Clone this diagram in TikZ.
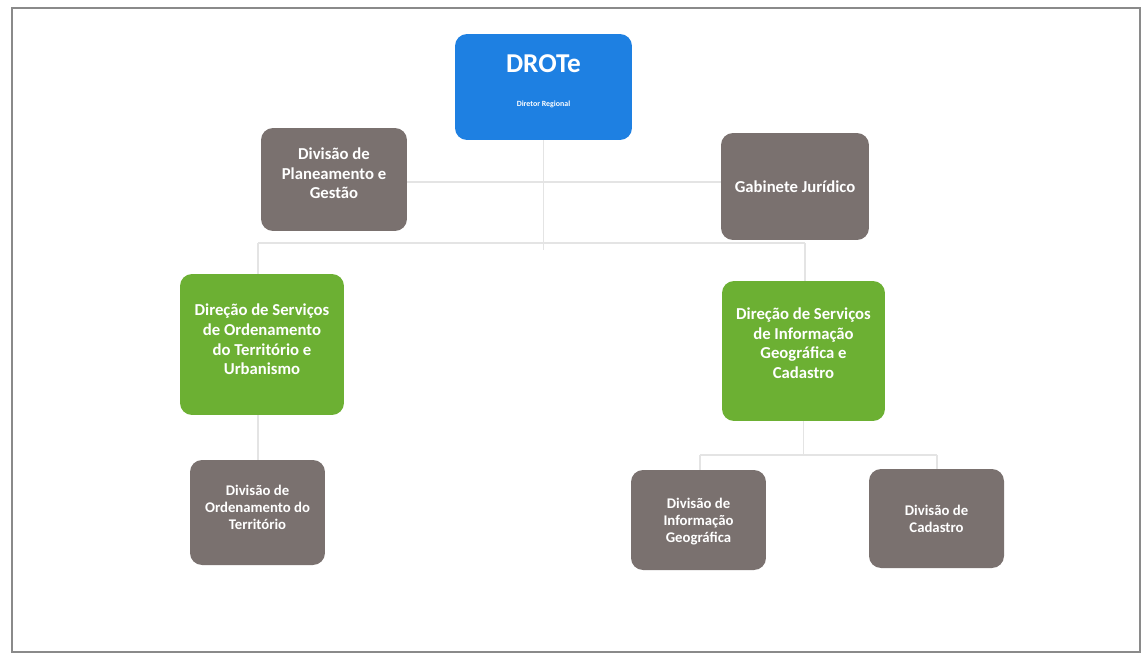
\documentclass[tikz,border=0pt]{standalone}
\usepackage{fontspec}
\setmainfont{Carlito}
\definecolor{boxgray}{HTML}{7A716F}
\definecolor{boxblue}{HTML}{1E80E2}
\definecolor{boxgreen}{HTML}{6CB033}
\definecolor{linegray}{HTML}{E4E4E4}
\definecolor{framegray}{HTML}{8A8A8A}
\begin{document}
\begin{tikzpicture}[x=0.02cm,y=-0.02cm,
  box/.style={rounded corners=0.24cm, text=white, font=\bfseries, align=center, inner sep=0pt},
  graybox/.style={box, fill=boxgray},
  greenbox/.style={box, fill=boxgreen},
  bluebox/.style={box, fill=boxblue},
  bigtxt/.style={font=\bfseries\fontsize{9.5}{11.2}\selectfont},
  smalltxt/.style={font=\bfseries\fontsize{8.4}{9.7}\selectfont},
  conn/.style={draw=linegray, line width=0.6pt}]
\path[use as bounding box] (0,0) rectangle (1142,656);
\draw[framegray, line width=1pt] (12,8) rectangle (1140,652);

% nodes
\node[bluebox, minimum width=3.54cm, minimum height=2.12cm] (drote) at (543.5,87) {};
\node[text=white, font=\bfseries\fontsize{15.5}{18}\selectfont] (drotet) at (543.5,64) {DROTe};
\node[text=white, font=\bfseries\fontsize{4.5}{5}\selectfont] (droted) at (543.5,104) {Diretor Regional};

\node[graybox, bigtxt, minimum width=2.92cm, minimum height=2.06cm, text depth=0.25cm] (plan) at (334,179.5) {Divisão de\\Planeamento e\\Gestão};
\node[graybox, bigtxt, minimum width=2.96cm, minimum height=2.14cm] (gab) at (795,186.5) {Gabinete Jurídico};

\node[greenbox, bigtxt, minimum width=3.28cm, minimum height=2.82cm, text depth=0.2cm] (dsot) at (262,344.5) {Direção de Serviços\\de Ordenamento\\do Território e\\Urbanismo};
\node[greenbox, bigtxt, minimum width=3.26cm, minimum height=2.80cm, text depth=0.32cm] (dsig) at (803.5,351) {Direção de Serviços\\de Informação\\Geográfica e\\Cadastro};

\node[graybox, smalltxt, minimum width=2.70cm, minimum height=2.10cm, text depth=0.2cm] (dot) at (257.5,512.5) {Divisão de\\Ordenamento do\\Território};
\node[graybox, minimum width=2.70cm, minimum height=2.00cm] (dig) at (698.5,520) {};
\node[box, smalltxt] (digt) at (698.5,522) {Divisão de\\Informação\\Geográfica};
\node[graybox, smalltxt, minimum width=2.70cm, minimum height=1.98cm] (dc) at (936.5,518.5) {Divisão de\\Cadastro};

% junctions
\coordinate (jtop) at (543.5,250);
\coordinate (jmidL) at (407,182);
\coordinate (jmidR) at (721,182);
\coordinate (jL) at (258,243);
\coordinate (jR) at (805,243);
\coordinate (jBR) at (803.5,455);
\coordinate (jBL) at (700,455);
\coordinate (jBC) at (937,455);

\draw[conn] (drote.south) -- (jtop);
\draw[conn] (plan.east |- jmidL) -- (gab.west |- jmidR);
\draw[conn] (jL) -- (jR);
\draw[conn] (jL) -- (jL |- dsot.north);
\draw[conn] (jR) -- (jR |- dsig.north);
\draw[conn] (jL |- dsot.south) -- (jL |- dot.north);
\draw[conn] (dsig.south) -- (jBR);
\draw[conn] (jBL) -- (jBC);
\draw[conn] (jBL) -- (jBL |- dig.north);
\draw[conn] (jBC) -- (jBC |- dc.north);
\end{tikzpicture}
\end{document}
